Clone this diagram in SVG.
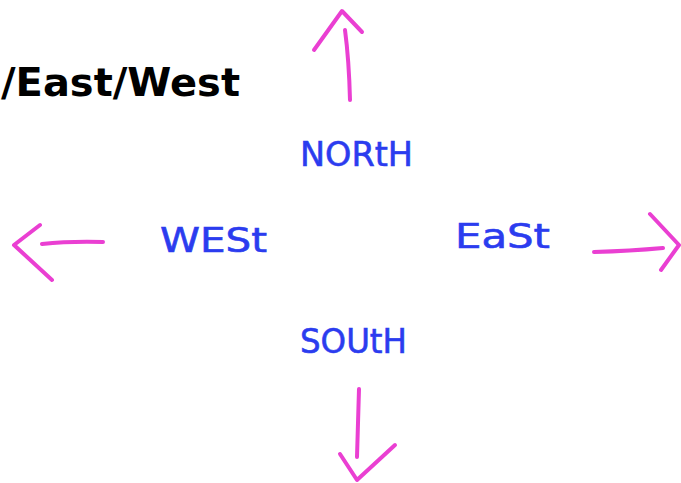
<svg xmlns="http://www.w3.org/2000/svg" width="681" height="483" viewBox="0 0 681 483">
<style>
.title{font-family:"DejaVu Sans","Liberation Sans",sans-serif;font-weight:bold;font-size:39px;fill:#000}
.lbl{font-family:"DejaVu Sans","Liberation Sans",sans-serif;font-size:34px;fill:#2b3cef;stroke:#2b3cef;stroke-width:0.6}
.arr{fill:none;stroke:#ea3fd2;stroke-width:4;stroke-linecap:round;stroke-linejoin:round}
</style>
<rect width="681" height="483" fill="#fff"/>
<g id="title"><text class="title" x="1" y="96" textLength="239" lengthAdjust="spacingAndGlyphs">/East/West</text></g>
<g id="north"><text class="lbl" x="300" y="166" textLength="113" lengthAdjust="spacingAndGlyphs">NORtH</text></g>
<g id="west"><text class="lbl" x="160" y="252" textLength="107" lengthAdjust="spacingAndGlyphs">WESt</text></g>
<g id="east"><text class="lbl" x="455" y="248" textLength="95" lengthAdjust="spacingAndGlyphs">EaSt</text></g>
<g id="south"><text class="lbl" x="300" y="353" textLength="107" lengthAdjust="spacingAndGlyphs">SOUtH</text></g>
<g id="arrows">
<path class="arr" d="M350 100 Q349 60 345 30 M314 50 L342 11 L362 32"/>
<path class="arr" d="M103 242 Q70 241 42 244 M40 225 L14 245 L52 280"/>
<path class="arr" d="M594 252 Q630 251 663 248 M650 214 L679 245 L661 270"/>
<path class="arr" d="M359 389 Q358 425 357 457 M340 454 L357 480 L395 445"/>
</g>
</svg>
